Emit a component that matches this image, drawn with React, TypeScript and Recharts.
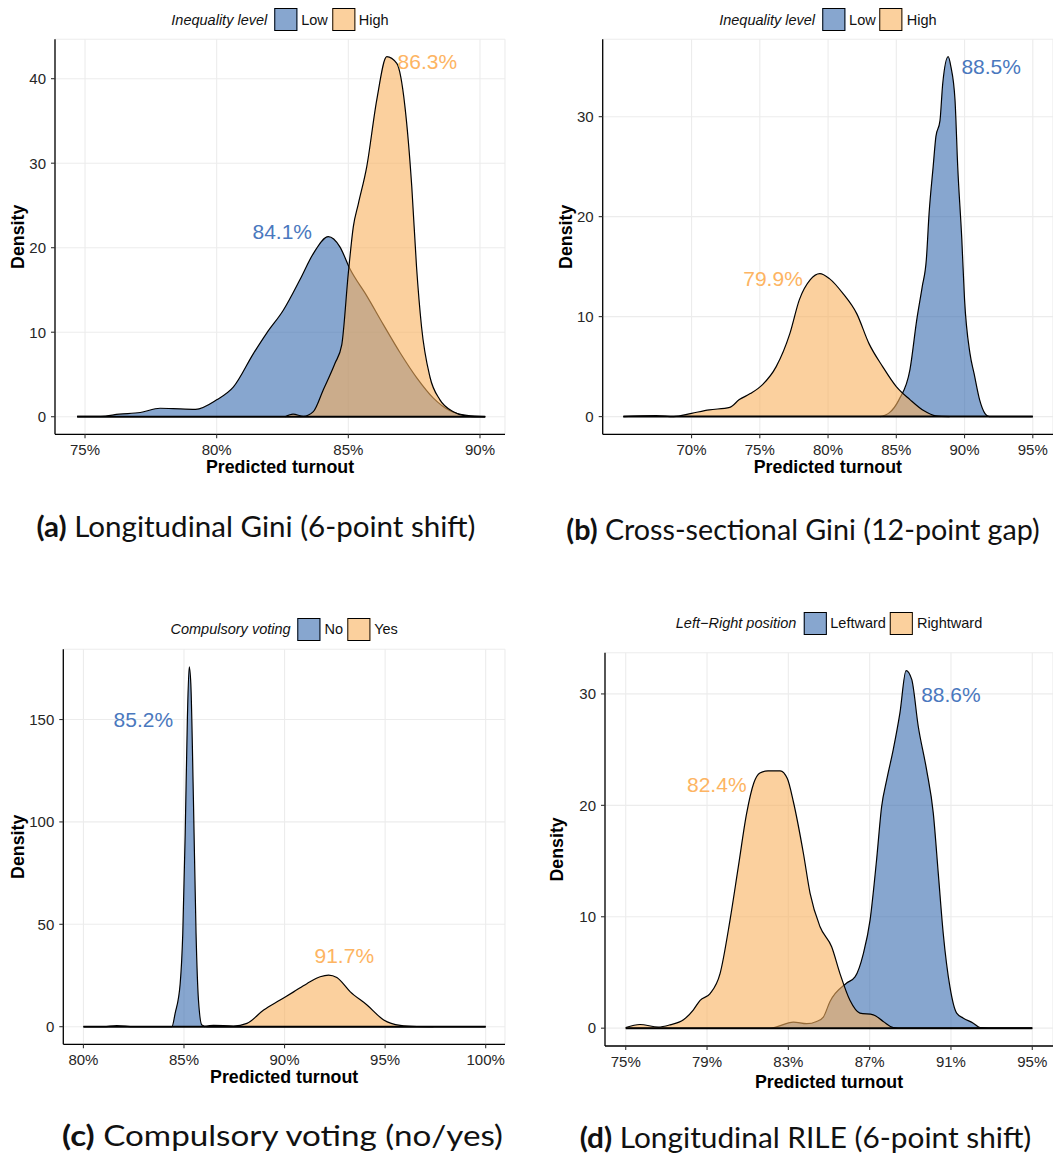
import React from "react";
import {
  ComposedChart,
  Area,
  XAxis,
  YAxis,
  CartesianGrid,
  ReferenceLine,
  ReferenceDot,
} from "recharts";

// ---- (a) longitudinal Gini ----
const giniLongLowX = [74.7, 75.6, 76.3, 77.1, 77.85, 78.35, 79.2, 80.0, 80.63, 81.4, 81.9, 82.53, 83.16, 83.67, 84.24, 84.68, 85.06, 85.7, 86.33, 86.96, 87.6, 88.23, 88.86, 89.5, 90.2];
const giniLongLowDensity = [0.05, 0.05, 0.3, 0.5, 1.0, 0.95, 0.87, 2.0, 3.5, 7.5, 9.9, 12.6, 16.2, 19.3, 21.3, 20.1, 17.5, 14.3, 10.9, 7.6, 4.6, 2.2, 0.7, 0.15, 0];
const giniLongHighX = [82.6, 82.9, 83.3, 83.67, 84.05, 84.49, 84.75, 85.0, 85.19, 85.38, 85.7, 86.08, 86.46, 86.84, 87.15, 87.41, 87.59, 87.78, 88.1, 88.48, 88.99, 89.49, 90.2];
const giniLongHighDensity = [0, 0.3, 0.05, 0.6, 3.2, 6.3, 8.5, 17.0, 22.5, 25.2, 29.6, 37.5, 42.6, 41.8, 36.7, 27.2, 17.75, 10.65, 4.7, 2.0, 0.6, 0.08, 0];
const giniLongMeans = [84.1, 86.3];

// ---- (b) cross-sectional Gini ----
const giniCrossLowX = [83.8, 84.5, 85.2, 86.0, 86.5, 86.9, 87.2, 87.4, 87.7, 87.9, 88.2, 88.4, 88.8, 89.0, 89.3, 89.5, 89.8, 90.0, 90.4, 90.7, 91.1, 91.5, 91.8, 95.0];
const giniCrossLowDensity = [0, 0.4, 1.7, 4.7, 9.7, 13, 15.7, 20.3, 25, 28, 29.6, 33.3, 36, 35, 31.7, 25, 17.7, 11.7, 6.3, 4.3, 1.7, 0.3, 0, 0];
const giniCrossHighX = [65.0, 67.4, 68.7, 70.0, 71.3, 72.8, 73.5, 74.3, 75.2, 76.2, 77.2, 77.9, 78.7, 79.4, 80.1, 81.1, 82.1, 83.0, 84.0, 85.0, 86.0, 87.0, 87.9, 88.9];
const giniCrossHighDensity = [0, 0.1, 0, 0.33, 0.67, 0.93, 1.7, 2.3, 3.2, 5.0, 8.3, 11.7, 13.7, 14.3, 13.8, 12.3, 10.3, 7.3, 5.0, 3.0, 1.7, 0.6, 0.07, 0];
const giniCrossMeans = [88.5, 79.9];

// ---- (c) compulsory voting ----
const compNoX = [80, 81.0, 81.66, 82.5, 84.4, 84.56, 84.81, 84.94, 85.06, 85.17, 85.26, 85.34, 85.47, 85.6, 85.72, 85.89, 86.14, 100];
const compNoDensity = [0, 0, 0.5, 0, 0, 6.5, 21, 45.5, 94, 151, 175.7, 167.5, 110.6, 45.5, 13, 0.8, 0, 0];
const compYesX = [86.0, 86.47, 87.46, 88.13, 88.96, 89.78, 90.45, 91.11, 91.77, 92.19, 92.6, 93.27, 94.1, 94.93, 95.75, 96.58, 97.4];
const compYesDensity = [0, 0.65, 0.3, 1.6, 8.1, 13, 17, 21, 24.4, 25.2, 24, 17, 10.6, 3.3, 0.65, 0.1, 0];
const compMeans = [85.2, 91.7];

// ---- (d) longitudinal RILE ----
const rileLeftX = [75, 82.1, 83.25, 83.9, 84.39, 84.72, 85.05, 85.87, 86.28, 86.69, 87.02, 87.34, 87.59, 87.84, 88.16, 88.49, 88.79, 89.07, 89.39, 89.8, 90.13, 90.38, 90.62, 90.95, 91.28, 91.61, 92.1, 92.43, 93.25, 95];
const rileLeftDensity = [0, 0, 0.55, 0.4, 0.6, 1.0, 2.4, 4.05, 4.6, 6.7, 9.7, 15.1, 19.9, 22.3, 25.0, 28.3, 32.1, 31.3, 27.1, 23.2, 19.3, 13.8, 8.5, 3.7, 1.35, 0.9, 0.45, 0.06, 0, 0];
const rileRightX = [75, 75.7, 76.6, 77.18, 77.84, 78.33, 78.66, 79.15, 79.64, 80.13, 80.54, 80.95, 81.3, 81.6, 82.0, 82.6, 82.95, 83.25, 83.74, 84.07, 84.56, 85.13, 85.54, 86.03, 86.52, 87.18, 87.67, 88.16, 88.66, 95];
const rileRightDensity = [0.06, 0.33, 0.1, 0.3, 0.75, 1.65, 2.5, 3.1, 4.9, 9.7, 14.5, 19.3, 22.0, 22.9, 23.1, 23.1, 22.4, 20.3, 15.7, 12.1, 9.1, 7.3, 4.9, 2.5, 1.35, 1.2, 0.6, 0.06, 0, 0];
const rileMeans = [88.6, 82.4];

const BLUE = "#376baf";
const ORANGE = "#f8b15d";
const BLUE_TEXT = "#4a78be";
const ORANGE_TEXT = "#fdb462";
const ALPHA = 0.6;
const FONT = '"Liberation Sans", Arial, Helvetica, sans-serif';
const CAPTION_FONT = 'Lato, "DejaVu Sans", sans-serif';
const Y_AXIS_W = 40;
const X_AXIS_H = 30;

type Series = {
  name: string;
  x: number[];
  d: number[];
  mean: number;
  color: string;
  textColor: string;
  labelAt: [number, number];
};

// plot = inner panel box in chart coordinates: left, top, right, bottom
type PanelProps = {
  left: number;
  top: number;
  width: number;
  height: number;
  plot: { left: number; top: number; right: number; bottom: number };
  xDomain: [number, number];
  xTicks: number[];
  yDomain: [number, number];
  yTicks: number[];
  legendTitle: string;
  legendCenterY: number;
  xTitleGap: number;
  yTitleGap: number;
  series: Series[];
};

const toRows = (x: number[], d: number[]) => x.map((v, i) => ({ x: v, d: d[i] }));

function Legend({ title, series, cx, cy }: { title: string; series: Series[]; cx: number; cy: number }) {
  return (
    <div
      style={{
        position: "absolute",
        left: cx,
        top: cy - 12,
        transform: "translateX(-50%)",
        display: "flex",
        alignItems: "center",
        height: 24,
        whiteSpace: "nowrap",
        fontFamily: FONT,
        fontSize: 14.5,
        color: "#111",
      }}
    >
      <span style={{ fontStyle: "italic", marginRight: 7 }}>{title}</span>
      {series.map((s, i) => (
        <React.Fragment key={s.name}>
          <span style={{ width: 21, height: 21, border: "1.5px solid #000", background: s.color, position: "relative" }}>
            <span style={{ position: "absolute", inset: 0, background: "#fff", opacity: 1 - ALPHA }} />
          </span>
          <span style={{ marginLeft: 4, marginRight: i === series.length - 1 ? 0 : 4 }}>{s.name}</span>
        </React.Fragment>
      ))}
    </div>
  );
}

function DensityPanel(p: PanelProps) {
  const margin = {
    top: p.plot.top,
    left: p.plot.left - Y_AXIS_W,
    right: p.width - p.plot.right,
    bottom: p.height - p.plot.bottom - X_AXIS_H,
  };
  const plotW = p.plot.right - p.plot.left;
  const plotH = p.plot.bottom - p.plot.top;
  const allX = p.series.flatMap((s) => s.x);
  const xMin = Math.min(...allX);
  const xMax = Math.max(...allX);
  const tick = { fill: "#262626", fontSize: 15, fontFamily: FONT };
  const titleX = p.plot.left + plotW / 2;
  const titleY = p.plot.bottom + p.xTitleGap;
  const dX = p.plot.left - p.yTitleGap;
  const dY = p.plot.top + plotH / 2;

  return (
    <>
      <div style={{ position: "absolute", left: p.left, top: p.top }}>
        <ComposedChart width={p.width} height={p.height} margin={margin}>
          <CartesianGrid stroke="#ececec" strokeWidth={1.1} />
          <XAxis
            type="number"
            dataKey="x"
            domain={p.xDomain}
            ticks={p.xTicks}
            allowDataOverflow
            height={X_AXIS_H}
            tickFormatter={(v: number) => `${v}%`}
            tick={tick}
            tickSize={4}
            tickMargin={6}
            axisLine={{ stroke: "#000", strokeWidth: 1.3 }}
            tickLine={{ stroke: "#333", strokeWidth: 1.1 }}
          />
          <YAxis
            type="number"
            domain={p.yDomain}
            ticks={p.yTicks}
            allowDataOverflow
            width={Y_AXIS_W}
            tick={tick}
            tickSize={4}
            tickMargin={5}
            axisLine={{ stroke: "#000", strokeWidth: 1.3 }}
            tickLine={{ stroke: "#333", strokeWidth: 1.1 }}
          />
          {p.series.map((s) => (
            <Area
              key={s.name}
              name={s.name}
              data={toRows(s.x, s.d)}
              dataKey="d"
              type="monotone"
              fill={s.color}
              fillOpacity={ALPHA}
              stroke="#000"
              strokeWidth={1.2}
              isAnimationActive={false}
              dot={false}
              activeDot={false}
            />
          ))}
          <ReferenceLine
            segment={[
              { x: xMin, y: 0 },
              { x: xMax, y: 0 },
            ]}
            stroke="#000"
            strokeWidth={2}
          />
          {p.series.map((s) => (
            <ReferenceDot
              key={`lbl-${s.name}`}
              x={s.labelAt[0]}
              y={s.labelAt[1]}
              r={0}
              fill="none"
              stroke="none"
              label={{
                value: `${s.mean.toFixed(1)}%`,
                position: "center",
                fill: s.textColor,
                fontSize: 21,
                fontFamily: FONT,
              }}
            />
          ))}
        </ComposedChart>
        {/* axis titles */}
        <svg width={p.width} height={p.height + 40} style={{ position: "absolute", left: 0, top: 0, pointerEvents: "none" }}>
          <text x={titleX} y={titleY} textAnchor="middle" fontFamily={FONT} fontWeight="bold" fontSize={17.8} fill="#000">
            Predicted turnout
          </text>
          <text x={dX} y={dY} transform={`rotate(-90, ${dX}, ${dY})`} textAnchor="middle" fontFamily={FONT} fontWeight="bold" fontSize={17.8} fill="#000">
            Density
          </text>
        </svg>
      </div>
      <Legend title={p.legendTitle} series={p.series} cx={p.left + p.plot.left + plotW / 2} cy={p.legendCenterY} />
    </>
  );
}

function Caption({ x, y, width, tag, text }: { x: number; y: number; width: number; tag: string; text: string }) {
  return (
    <text x={x} y={y} textLength={width} lengthAdjust="spacingAndGlyphs" fontFamily={CAPTION_FONT} fontSize={28} fill="#111">
      <tspan fontWeight="bold">{`(${tag})`}</tspan>
      <tspan>{` ${text}`}</tspan>
    </text>
  );
}

export default function App() {
  const panels: PanelProps[] = [
    {
      left: 0,
      top: 0,
      width: 520,
      height: 490,
      plot: { left: 55, top: 39.3, right: 505, bottom: 434.3 },
      xDomain: [73.86, 90.95],
      xTicks: [75, 80, 85, 90],
      yDomain: [-2.08, 44.66],
      yTicks: [0, 10, 20, 30, 40],
      legendTitle: "Inequality level",
      legendCenterY: 19.5,
      xTitleGap: 39,
      yTitleGap: 30.5,
      series: [
        { name: "Low", x: giniLongLowX, d: giniLongLowDensity, mean: giniLongMeans[0], color: BLUE, textColor: BLUE_TEXT, labelAt: [82.49, 21.9] },
        { name: "High", x: giniLongHighX, d: giniLongHighDensity, mean: giniLongMeans[1], color: ORANGE, textColor: ORANGE_TEXT, labelAt: [88.0, 42.0] },
      ],
    },
    {
      left: 530,
      top: 0,
      width: 523,
      height: 490,
      plot: { left: 72.7, top: 39.3, right: 523, bottom: 434.3 },
      xDomain: [63.49, 96.48],
      xTicks: [70, 75, 80, 85, 90, 95],
      yDomain: [-1.77, 37.74],
      yTicks: [0, 10, 20, 30],
      legendTitle: "Inequality level",
      legendCenterY: 19.5,
      xTitleGap: 39,
      yTitleGap: 31,
      series: [
        { name: "Low", x: giniCrossLowX, d: giniCrossLowDensity, mean: giniCrossMeans[0], color: BLUE, textColor: BLUE_TEXT, labelAt: [91.95, 35.0] },
        { name: "High", x: giniCrossHighX, d: giniCrossHighDensity, mean: giniCrossMeans[1], color: ORANGE, textColor: ORANGE_TEXT, labelAt: [75.97, 13.8] },
      ],
    },
    {
      left: 0,
      top: 600,
      width: 520,
      height: 490,
      plot: { left: 63.3, top: 49.3, right: 505, bottom: 444.3 },
      xDomain: [79.0, 100.96],
      xTicks: [80, 85, 90, 95, 100],
      yDomain: [-8.6, 184.3],
      yTicks: [0, 50, 100, 150],
      legendTitle: "Compulsory voting",
      legendCenterY: 629.2,
      xTitleGap: 38.4,
      yTitleGap: 39,
      series: [
        { name: "No", x: compNoX, d: compNoDensity, mean: compMeans[0], color: BLUE, textColor: BLUE_TEXT, labelAt: [82.98, 149.8] },
        { name: "Yes", x: compYesX, d: compYesDensity, mean: compMeans[1], color: ORANGE, textColor: ORANGE_TEXT, labelAt: [92.97, 34.5] },
      ],
    },
    {
      left: 530,
      top: 600,
      width: 523,
      height: 490,
      plot: { left: 75, top: 52.7, right: 523, bottom: 446 },
      xDomain: [73.98, 96.02],
      xTicks: [75, 79, 83, 87, 91, 95],
      yDomain: [-1.6, 33.7],
      yTicks: [0, 10, 20, 30],
      legendTitle: "Left\u2212Right position",
      legendCenterY: 623,
      xTitleGap: 41.7,
      yTitleGap: 41.7,
      series: [
        { name: "Leftward", x: rileLeftX, d: rileLeftDensity, mean: rileMeans[0], color: BLUE, textColor: BLUE_TEXT, labelAt: [91.0, 29.9] },
        { name: "Rightward", x: rileRightX, d: rileRightDensity, mean: rileMeans[1], color: ORANGE, textColor: ORANGE_TEXT, labelAt: [79.48, 21.9] },
      ],
    },
  ];

  return (
    <div style={{ position: "absolute", left: 0, top: 0, width: 1053, height: 1156, overflow: "hidden", background: "#fff" }}>
      <svg width={1053} height={1156} style={{ position: "absolute", left: 0, top: 0 }}>
        <Caption x={36.5} y={537} width={439} tag="a" text="Longitudinal Gini (6-point shift)" />
        <Caption x={566.3} y={540} width={473.4} tag="b" text="Cross-sectional Gini (12-point gap)" />
        <Caption x={62} y={1146} width={441} tag="c" text="Compulsory voting (no/yes)" />
        <Caption x={579.7} y={1148} width={451.6} tag="d" text="Longitudinal RILE (6-point shift)" />
      </svg>
      {panels.map((p, i) => (
        <DensityPanel key={i} {...p} />
      ))}
    </div>
  );
}
